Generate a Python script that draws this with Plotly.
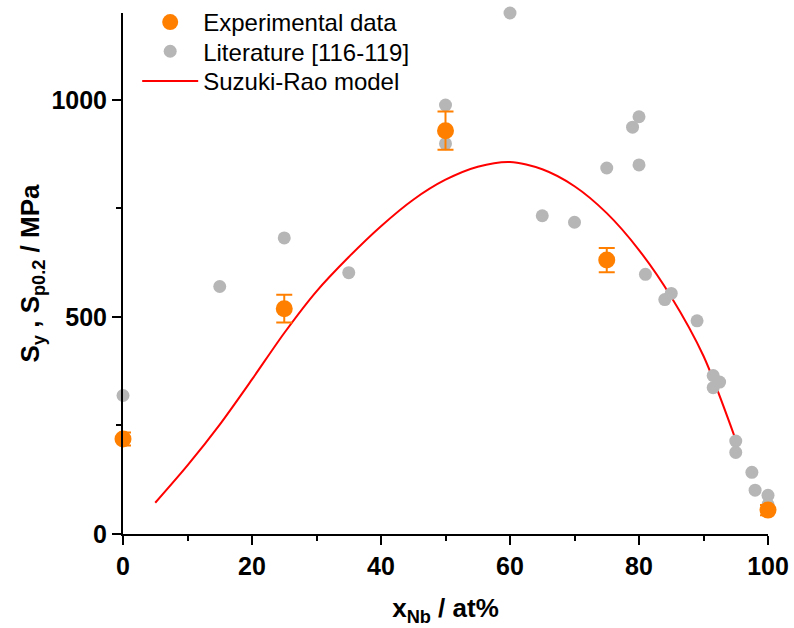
import plotly.graph_objects as go

# Yield strength vs. Nb content
exp_x = [0, 25, 50, 75, 100]
exp_y = [219, 519, 929, 631, 55]
exp_err = [15, 32, 44, 28, 12]

lit_x = [0, 15, 25, 35, 50, 50, 60, 65, 70, 75, 79, 80, 80, 81, 84, 85, 89,
         91.5, 92.5, 91.5, 95, 95, 97.5, 98, 100, 100]
lit_y = [319, 570, 682, 602, 988, 899, 1200, 733, 718, 843, 937, 961, 850, 598,
         540, 554, 491, 365, 350, 337, 214, 188, 142, 101, 89, 68]

model_x = [5, 10, 15, 20, 25, 30, 35, 40, 45, 50, 55, 60, 65, 70, 75, 80, 85, 90, 95]
model_y = [72, 158, 252, 356, 463, 559, 638, 709, 770, 816, 846, 857, 840, 801,
           739, 654, 546, 410, 217]

FONT = "Arial, Liberation Sans, sans-serif"
ORANGE = "rgb(255,128,0)"
GRAY = "rgb(182,182,182)"

fig = go.Figure()

fig.add_trace(go.Scatter(
    x=model_x, y=model_y, mode="lines", name="Suzuki-Rao model",
    line=dict(color="rgb(255,0,0)", width=2, shape="spline", smoothing=0.8),
    cliponaxis=False, legend="legend3",
))

fig.add_trace(go.Scatter(
    x=lit_x, y=lit_y, mode="markers", name="Literature [116-119]",
    marker=dict(color=GRAY, size=13, line=dict(width=0)),
    cliponaxis=False, legend="legend2",
))

fig.add_trace(go.Scatter(
    x=exp_x, y=exp_y, mode="markers", name="Experimental data",
    marker=dict(color=ORANGE, size=17, line=dict(width=0)),
    error_y=dict(type="data", array=exp_err, visible=True,
                 color=ORANGE, thickness=2, width=8),
    cliponaxis=False, legend="legend",
))


def legend_box(ytop):
    return dict(
        x=0.022, y=ytop, xanchor="left", yanchor="top",
        font=dict(family=FONT, size=24, color="black"),
        bgcolor="rgba(0,0,0,0)", itemwidth=56,
    )


fig.update_layout(
    width=794, height=628,
    margin=dict(l=123, r=26, t=13, b=94, autoexpand=False),
    paper_bgcolor="white", plot_bgcolor="white",
    font=dict(family=FONT, color="black"),
    showlegend=True,
    legend=legend_box(1.025),
    legend2=legend_box(0.969),
    legend3=legend_box(0.912),
)

fig.update_xaxes(
    range=[0, 100], dtick=20, tick0=0,
    showline=True, linecolor="black", linewidth=2,
    ticks="outside", ticklen=9, tickwidth=2, tickcolor="black",
    minor=dict(ticks="outside", ticklen=5, tickwidth=2, dtick=10, tickcolor="black"),
    showgrid=False, zeroline=False,
    tickfont=dict(family=FONT, size=25, weight="bold"),
    title=dict(text="x<sub>Nb</sub> / at%", standoff=20,
               font=dict(family=FONT, size=26, weight="bold")),
)

fig.update_yaxes(
    range=[0, 1200], dtick=500, tick0=0,
    showline=True, linecolor="black", linewidth=2,
    ticks="outside", ticklen=9, tickwidth=2, tickcolor="black",
    minor=dict(ticks="outside", ticklen=5, tickwidth=2, dtick=250, tickcolor="black"),
    showgrid=False, zeroline=False,
    tickfont=dict(family=FONT, size=25, weight="bold"),
    title=dict(text="S<sub>y</sub> , S<sub>p0.2</sub> / MPa", standoff=4,
               font=dict(family=FONT, size=26, weight="bold")),
)

fig.write_html("out.html")
